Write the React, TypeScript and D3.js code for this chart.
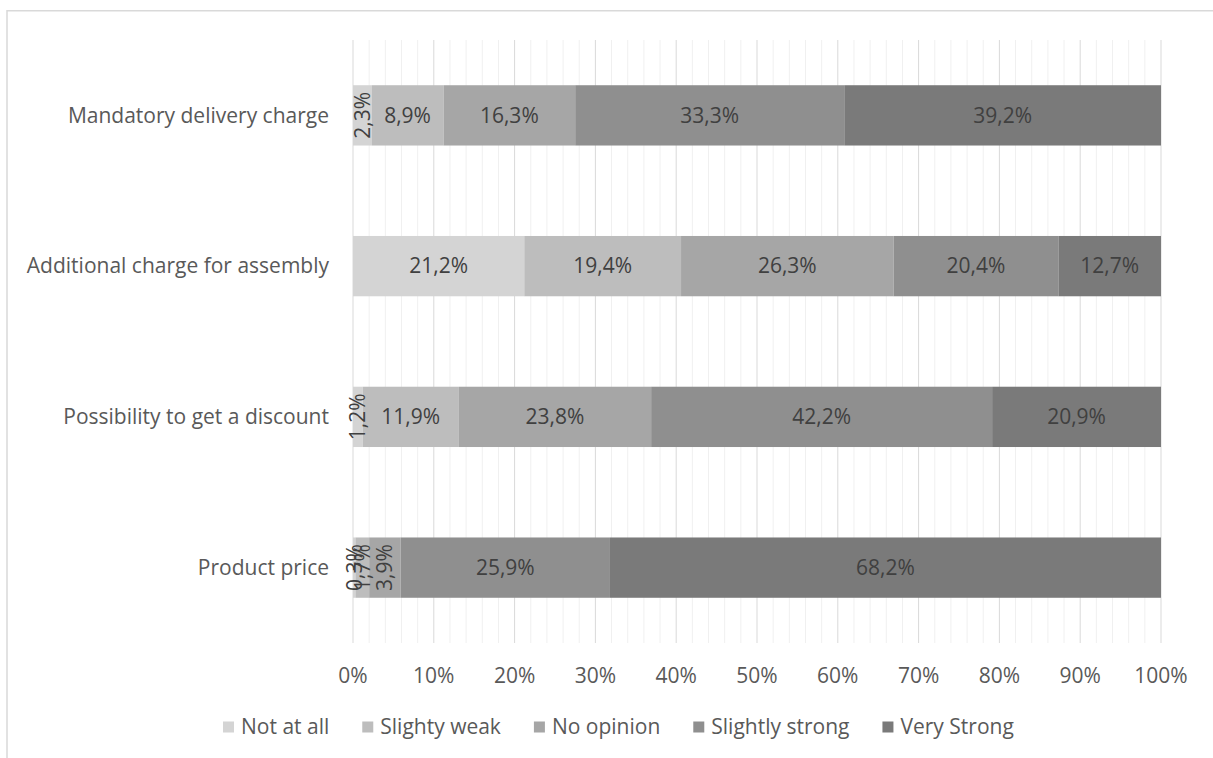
import React, { useEffect, useRef } from "react";
import * as d3 from "d3";

const categories = [
  "Mandatory delivery charge",
  "Additional charge for assembly",
  "Possibility to get a discount",
  "Product price",
];
const seriesNames = ["Not at all", "Slighty weak", "No opinion", "Slightly strong", "Very Strong"];
const notAtAll = [2.3, 21.2, 1.2, 0.3];
const slightyWeak = [8.9, 19.4, 11.9, 1.7];
const noOpinion = [16.3, 26.3, 23.8, 3.9];
const slightlyStrong = [33.3, 20.4, 42.2, 25.9];
const veryStrong = [39.2, 12.7, 20.9, 68.2];
const xTicks = [0, 10, 20, 30, 40, 50, 60, 70, 80, 90, 100];
const seriesColors = ["#d4d4d4", "#bdbdbd", "#a6a6a6", "#8f8f8f", "#7a7a7a"];

const W = 1213;
const H = 758;
const FONT = "'Open Sans', 'Noto Sans', sans-serif";

export default function App() {
  const ref = useRef<SVGSVGElement | null>(null);

  useEffect(() => {
    const svg = d3.select(ref.current);
    svg.selectAll("*").remove();

    const seriesValues = [notAtAll, slightyWeak, noOpinion, slightlyStrong, veryStrong];
    const rows = categories.map((c, i) => {
      const r: any = { category: c };
      seriesNames.forEach((s, k) => (r[s] = seriesValues[k][i]));
      return r;
    });
    const stacked = d3.stack().keys(seriesNames)(rows);

    const x = d3.scaleLinear().domain([0, 100]).range([353, 1161]);
    const y = d3
      .scaleBand()
      .domain(categories)
      .range([40, 643])
      .paddingInner(0.6)
      .paddingOuter(0.3);

    // frame
    svg
      .append("rect")
      .attr("x", 7)
      .attr("y", 10.75)
      .attr("width", 1400)
      .attr("height", 1000)
      .attr("fill", "#fff")
      .attr("stroke", "#d9d9d9")
      .attr("stroke-width", 1.5);

    // minor grid
    const minor = d3.range(2, 100, 2).filter((v) => v % 10 !== 0);
    svg
      .append("g")
      .selectAll("line")
      .data(minor)
      .join("line")
      .attr("x1", (d) => x(d))
      .attr("x2", (d) => x(d))
      .attr("y1", y.range()[0])
      .attr("y2", y.range()[1])
      .attr("stroke", "#f0f0f0")
      .attr("stroke-width", 1);

    // major grid
    svg
      .append("g")
      .selectAll("line")
      .data(xTicks)
      .join("line")
      .attr("x1", (d) => x(d))
      .attr("x2", (d) => x(d))
      .attr("y1", y.range()[0])
      .attr("y2", y.range()[1])
      .attr("stroke", "#d9d9d9")
      .attr("stroke-width", 1);

    // bars
    const g = svg.append("g");
    stacked.forEach((layer, k) => {
      g.append("g")
        .selectAll("rect")
        .data(layer)
        .join("rect")
        .attr("x", (d) => x(d[0]))
        .attr("width", (d) => x(d[1]) - x(d[0]))
        .attr("y", (d: any) => y(d.data.category)!)
        .attr("height", y.bandwidth())
        .attr("fill", seriesColors[k]);
    });

    // data labels
    const fmt = (v: number) => v.toFixed(1).replace(".", ",") + "%";
    stacked.forEach((layer) => {
      layer.forEach((d: any) => {
        const v = d[1] - d[0];
        const cx = (x(d[0]) + x(d[1])) / 2;
        const cy = y(d.data.category)! + y.bandwidth() / 2;
        const t = g
          .append("text")
          .attr("text-anchor", "middle")
          .attr("dy", "0.35em")
          .attr("font-family", FONT)
          .attr("font-size", 21)
          .attr("fill", "#404040")
          .text(fmt(v));
        if (v < 5) {
          t.attr("transform", `translate(${cx},${cy}) rotate(-90)`);
        } else {
          t.attr("x", cx).attr("y", cy);
        }
      });
    });

    // category labels
    svg
      .append("g")
      .selectAll("text")
      .data(categories)
      .join("text")
      .attr("x", 329)
      .attr("y", (d) => y(d)! + y.bandwidth() / 2)
      .attr("dy", "0.35em")
      .attr("text-anchor", "end")
      .attr("font-family", FONT)
      .attr("font-size", 21)
      .attr("fill", "#595959")
      .text((d) => d);

    // x tick labels
    svg
      .append("g")
      .selectAll("text")
      .data(xTicks)
      .join("text")
      .attr("x", (d) => x(d))
      .attr("y", 676)
      .attr("dy", "0.35em")
      .attr("text-anchor", "middle")
      .attr("font-family", FONT)
      .attr("font-size", 21)
      .attr("fill", "#595959")
      .text((d) => d + "%");

    // legend
    const lg = svg.append("g");
    let lx = 223;
    const ly = 727;
    seriesNames.forEach((name, k) => {
      lg.append("rect")
        .attr("x", lx)
        .attr("y", ly - 5.5)
        .attr("width", 11)
        .attr("height", 11)
        .attr("fill", seriesColors[k]);
      const t = lg
        .append("text")
        .attr("x", lx + 18)
        .attr("y", ly)
        .attr("dy", "0.35em")
        .attr("font-family", FONT)
        .attr("font-size", 21)
        .attr("fill", "#595959")
        .text(name);
      const w = (t.node() as SVGTextElement).getComputedTextLength();
      lx += 18 + w + 33;
    });
  }, []);

  return (
    <svg
      ref={ref}
      width={W}
      height={H}
      style={{ position: "fixed", left: 0, top: 0, display: "block", background: "#fff" }}
    />
  );
}
